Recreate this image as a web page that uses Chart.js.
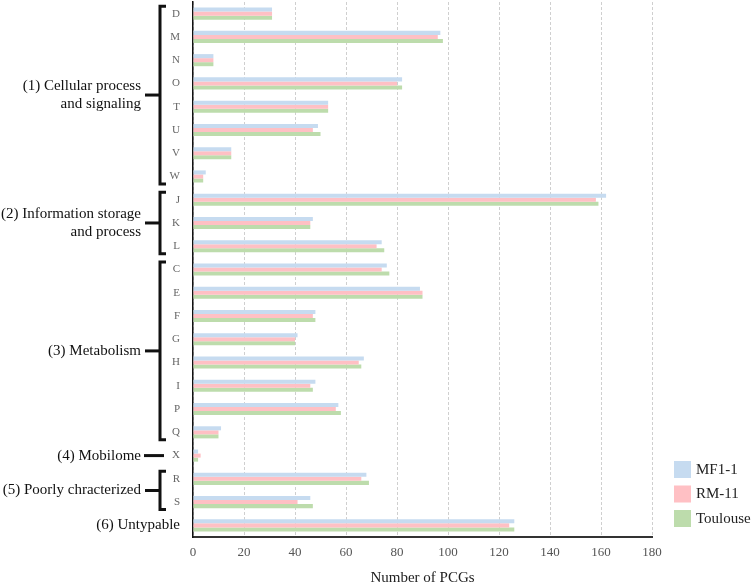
<!DOCTYPE html>
<html>
<head>
<meta charset="utf-8">
<script src="https://cdn.jsdelivr.net/npm/chart.js@4/dist/chart.umd.min.js"></script>
<style>
  html, body { margin: 0; padding: 0; background: #fff; }
  #wrap { width: 751px; height: 584px; }
  #warm { position: absolute; left: -999px; top: 0; font-family: "Liberation Serif", "Times New Roman", serif; }
</style>
</head>
<body>
<div id="warm">Number of PCGs (1) Cellular process 0123456789</div>
<div id="wrap"><canvas id="chart"></canvas></div>
<script>
// COG categories, top to bottom
const categories = ["D", "M", "N", "O", "T", "U", "V", "W", "J", "K", "L", "C", "E", "F", "G", "H", "I", "P", "Q", "X", "R", "S", "(6) Untypable"];

// number of PCGs per strain
const mf1 = [31, 97, 8, 82, 53, 49, 15, 5, 162, 47, 74, 76, 89, 48, 41, 67, 48, 57, 11, 2, 68, 46, 126];
const rm11 = [31, 96, 8, 80, 53, 47, 15, 4, 158, 46, 72, 74, 90, 47, 40, 65, 46, 56, 10, 3, 66, 41, 124];
const toulouse = [31, 98, 8, 82, 53, 50, 15, 4, 159, 46, 75, 77, 90, 48, 40, 66, 47, 58, 10, 2, 69, 47, 126];

const seriesNames = ["MF1-1", "RM-11", "Toulouse"];
const seriesColors = ["#c6dbf0", "#ffc0c4", "#bddcac"];

// functional groups (first and last category index)
const groups = [
  { label: ["(1) Cellular process", "and signaling"], from: 0, to: 7 },
  { label: ["(2) Information storage", "and process"], from: 8, to: 10 },
  { label: ["(3) Metabolism"], from: 11, to: 18 },
  { label: ["(4) Mobilome"], from: 19, to: 19 },
  { label: ["(5) Poorly chracterized"], from: 20, to: 21 }
];

const serif = '"Liberation Serif", "Times New Roman", serif';

// brackets on the left and legend on the right
const bracketPlugin = {
  id: "brackets",
  afterDraw(chart) {
    const ctx = chart.ctx;
    const y = chart.scales.y;
    ctx.save();
    ctx.strokeStyle = "#111";
    ctx.fillStyle = "#111";
    ctx.lineWidth = 3;
    ctx.font = "15px " + serif;
    ctx.textAlign = "right";
    ctx.textBaseline = "middle";
    groups.forEach(g => {
      const y0 = y.getPixelForValue(g.from);
      const y1 = y.getPixelForValue(g.to);
      const mid = (y0 + y1) / 2;
      if (g.from === g.to) {
        ctx.beginPath();
        ctx.moveTo(144, mid);
        ctx.lineTo(164, mid);
        ctx.stroke();
      } else {
        ctx.beginPath();
        ctx.moveTo(166, y0 - 7.5);
        ctx.lineTo(160, y0 - 7.5);
        ctx.lineTo(160, y1 + 7.5);
        ctx.lineTo(166, y1 + 7.5);
        ctx.stroke();
        ctx.beginPath();
        ctx.moveTo(145, mid);
        ctx.lineTo(160, mid);
        ctx.stroke();
      }
      const n = g.label.length;
      g.label.forEach((t, i) => {
        ctx.fillText(t, 141, mid + (i - (n - 1) / 2) * 18.5);
      });
    });

    // legend
    ctx.textAlign = "left";
    seriesNames.forEach((name, i) => {
      const top = 461 + i * 24.5;
      ctx.fillStyle = seriesColors[i];
      ctx.fillRect(674, top, 17, 17);
      ctx.fillStyle = "#222";
      ctx.fillText(name, 696, top + 9);
    });
    ctx.restore();
  }
};

function draw() {
  new Chart(document.getElementById("chart"), {
    type: "bar",
    data: {
      labels: categories,
      datasets: seriesNames.map((name, i) => ({
        label: name,
        data: [mf1, rm11, toulouse][i],
        backgroundColor: seriesColors[i],
        borderWidth: 0,
        barPercentage: 1,
        categoryPercentage: 0.52
      }))
    },
    options: {
      indexAxis: "y",
      responsive: true,
      maintainAspectRatio: false,
      animation: false,
      layout: { padding: { top: 2, right: 99, left: 0, bottom: 0 } },
      plugins: {
        legend: { display: false },
        tooltip: { enabled: false }
      },
      scales: {
        x: {
          min: 0,
          max: 180,
          ticks: {
            stepSize: 20,
            padding: 8,
            color: "#555",
            font: { family: serif, size: 13 }
          },
          grid: { color: "#cfcfcf", drawTicks: false, lineWidth: 1 },
          border: { display: true, color: "#333", width: 2, dash: [3, 2] },
          title: {
            display: true,
            text: "Number of PCGs",
            color: "#222",
            font: { family: serif, size: 15 },
            padding: { top: 0, bottom: -3 }
          },
          afterFit(scale) { scale.height = 47; }
        },
        y: {
          ticks: {
            autoSkip: false,
            padding: 13,
            color: ctx => ctx.index === categories.length - 1 ? "#111" : "#666",
            font: ctx => ctx.index === categories.length - 1
              ? { family: serif, size: 15 }
              : { family: serif, size: 11 }
          },
          grid: { display: false, drawTicks: false },
          border: { display: true, color: "#111", width: 1.5 },
          afterFit(scale) {
            scale.width = 193;
            scale.paddingTop = 0;
            scale.paddingBottom = 0;
          }
        }
      }
    },
    plugins: [bracketPlugin]
  });
}

// make sure the serif face is ready before drawing on the canvas
document.fonts.load('15px "Liberation Serif"').then(draw, draw);
</script>
</body>
</html>
